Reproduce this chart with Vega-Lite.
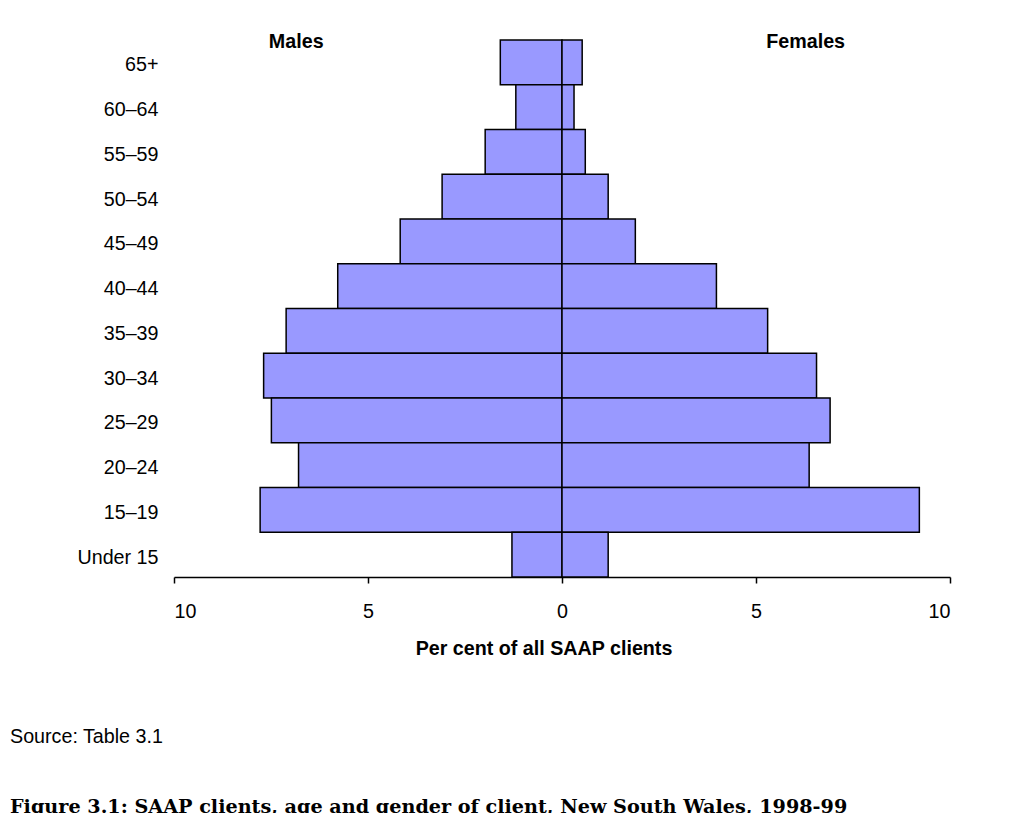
{
  "$schema": "https://vega.github.io/schema/vega-lite/v6.json",
  "width": 776,
  "height": 537,
  "autosize": {"type": "none"},
  "padding": {"left": 174, "top": 40, "right": 70, "bottom": 236},
  "background": "white",
  "config": {
    "font": "Liberation Sans",
    "view": {"stroke": null}
  },
  "title": {
    "text": "Source: Table 3.1",
    "orient": "bottom",
    "anchor": "start",
    "frame": "group",
    "dx": -164,
    "offset": 69,
    "font": "Liberation Sans",
    "fontSize": 19.7,
    "fontWeight": "normal",
    "color": "black",
    "subtitle": "Figure 3.1: SAAP clients, age and gender of client, New South Wales, 1998-99",
    "subtitleFont": "DejaVu Serif",
    "subtitleFontSize": 19.2,
    "subtitleFontWeight": "bold",
    "subtitleColor": "black",
    "subtitlePadding": 51
  },
  "datasets": {
    "clients": [
      {"age": "65+", "sex": "Males", "percent": -1.59},
      {"age": "60–64", "sex": "Males", "percent": -1.19},
      {"age": "55–59", "sex": "Males", "percent": -1.98},
      {"age": "50–54", "sex": "Males", "percent": -3.09},
      {"age": "45–49", "sex": "Males", "percent": -4.17},
      {"age": "40–44", "sex": "Males", "percent": -5.78},
      {"age": "35–39", "sex": "Males", "percent": -7.11},
      {"age": "30–34", "sex": "Males", "percent": -7.69},
      {"age": "25–29", "sex": "Males", "percent": -7.49},
      {"age": "20–24", "sex": "Males", "percent": -6.79},
      {"age": "15–19", "sex": "Males", "percent": -7.78},
      {"age": "Under 15", "sex": "Males", "percent": -1.29},
      {"age": "65+", "sex": "Females", "percent": 0.52},
      {"age": "60–64", "sex": "Females", "percent": 0.31},
      {"age": "55–59", "sex": "Females", "percent": 0.6},
      {"age": "50–54", "sex": "Females", "percent": 1.19},
      {"age": "45–49", "sex": "Females", "percent": 1.89},
      {"age": "40–44", "sex": "Females", "percent": 3.98},
      {"age": "35–39", "sex": "Females", "percent": 5.3},
      {"age": "30–34", "sex": "Females", "percent": 6.56},
      {"age": "25–29", "sex": "Females", "percent": 6.91},
      {"age": "20–24", "sex": "Females", "percent": 6.37},
      {"age": "15–19", "sex": "Females", "percent": 9.21},
      {"age": "Under 15", "sex": "Females", "percent": 1.19}
    ],
    "headers": [
      {"label": "Males", "pos": -6.85},
      {"label": "Females", "pos": 6.28}
    ]
  },
  "layer": [
    {
      "data": {"name": "clients"},
      "mark": {"type": "bar", "fill": "#9999FF", "stroke": "black", "strokeWidth": 1.5},
      "encoding": {
        "y": {
          "field": "age",
          "type": "nominal",
          "sort": ["65+", "60–64", "55–59", "50–54", "45–49", "40–44", "35–39", "30–34", "25–29", "20–24", "15–19", "Under 15"],
          "scale": {"paddingInner": 0, "paddingOuter": 0},
          "axis": {
            "title": null,
            "ticks": false,
            "domain": false,
            "labelPadding": 16,
            "labelFontSize": 19.7,
            "labelColor": "black",
            "labelOffset": 3
          }
        },
        "x": {
          "field": "percent",
          "type": "quantitative",
          "scale": {"domain": [-10, 10], "nice": false},
          "axis": {
            "values": [-10, -5, 0, 5, 10],
            "labelExpr": "abs(datum.value)",
            "grid": false,
            "title": "Per cent of all SAAP clients",
            "titleFontSize": 19.7,
            "titleFontWeight": "bold",
            "titleColor": "black",
            "titleX": 369.5,
            "titlePadding": 18,
            "labelFontSize": 19.7,
            "labelColor": "black",
            "labelPadding": 18,
            "tickSize": 6,
            "tickColor": "black",
            "tickWidth": 1.5,
            "domainColor": "black",
            "domainWidth": 1.5
          }
        }
      }
    },
    {
      "mark": {"type": "rule", "color": "black", "strokeWidth": 2},
      "encoding": {"x": {"datum": 0, "type": "quantitative"}}
    },
    {
      "data": {"name": "headers"},
      "mark": {"type": "text", "fontWeight": "bold", "fontSize": 19.7, "color": "black", "baseline": "middle", "dy": 2},
      "encoding": {
        "x": {"field": "pos", "type": "quantitative"},
        "y": {"datum": "65+", "bandPosition": 0},
        "text": {"field": "label"}
      }
    }
  ]
}
